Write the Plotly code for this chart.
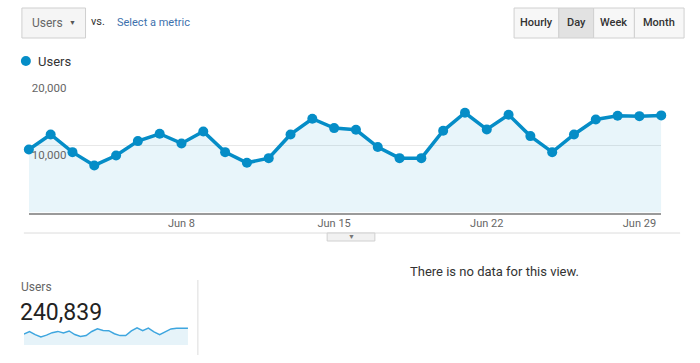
import plotly.graph_objects as go
import pandas as pd

dates = pd.date_range("2014-06-01", "2014-06-30", freq="D")
users = [9470, 11730, 9070, 7070, 8570, 10730, 11830, 10380, 12180, 9070,
         7470, 8170, 11730, 14090, 12680, 12430, 9830, 8170, 8170, 12280,
         14990, 12480, 14690, 11480, 9070, 11730, 13980, 14540, 14480, 14590]
tick_dates = ["2014-06-01", "2014-06-08", "2014-06-15", "2014-06-22", "2014-06-29"]
tick_labels = ["…", "Jun 8", "Jun 15", "Jun 22", "Jun 29"]
y_ticks = [10000, 20000]
y_tick_labels = ["10,000", "20,000"]
total_users = "240,839"
buttons = ["Hourly", "Day", "Week", "Month"]
button_edges = [513, 558, 593, 634, 684]

W, H = 700, 363
def X(p): return p / W
def Y(p): return 1 - p / H

BLUE = "#058DC7"
FONT = "Roboto"

fig = go.Figure()
fig.add_trace(go.Scatter(
    x=dates, y=users, mode="lines+markers",
    line=dict(color=BLUE, width=3.5), marker=dict(size=10, color=BLUE),
    fill="tozeroy", fillcolor="rgba(5,141,199,0.09)",
    cliponaxis=False, showlegend=False, hoverinfo="x+y",
    xaxis="x", yaxis="y"))
fig.add_trace(go.Scatter(
    x=dates, y=users, mode="lines",
    line=dict(color="#3ea6df", width=1.5),
    fill="tozeroy", fillcolor="rgba(5,141,199,0.10)",
    showlegend=False, hoverinfo="skip", xaxis="x2", yaxis="y2"))

fig.update_layout(
    width=W, height=H, margin=dict(l=0, r=0, t=0, b=0),
    paper_bgcolor="white", plot_bgcolor="white",
    font=dict(family=FONT, color="#333"),
    xaxis=dict(domain=[X(25), X(661)], range=[dates[0], dates[-1]],
               tickvals=tick_dates, ticktext=tick_labels, showgrid=False,
               showline=True, linecolor="#9a9a9a", linewidth=1.5, zeroline=False,
               ticks="", tickfont=dict(size=11, color="#666")),
    yaxis=dict(domain=[Y(212.5), Y(79)], range=[0, 20060],
               tickvals=y_ticks, ticktext=y_tick_labels,
               ticklabelposition="inside", ticklabelshift=9,
               showgrid=True, gridcolor="#e8e8e8", zeroline=False,
               showline=False, tickfont=dict(size=11.5, color="#666")),
    xaxis2=dict(domain=[X(20), X(185)], range=[dates[0], dates[-1]],
                visible=False),
    yaxis2=dict(domain=[Y(345), Y(322)], range=[0, 20000], visible=False),
)

shapes = []
anns = []
# dropdown
shapes.append(dict(type="rect", xref="paper", yref="paper", x0=X(18), x1=X(82), y0=Y(38), y1=Y(8),
                   fillcolor="#f5f5f5", line=dict(color="#cfcfcf", width=1)))
anns.append(dict(x=X(26), y=Y(23), text="Users", xanchor="left", yanchor="middle",
                 font=dict(size=12, color="#666")))
anns.append(dict(x=X(69), y=Y(22.5), text="▼", xanchor="center", yanchor="middle",
                 font=dict(size=7, color="#555")))
anns.append(dict(x=X(85), y=Y(21), text="vs.", xanchor="left", yanchor="middle",
                 font=dict(size=11, color="#333")))
anns.append(dict(x=X(112), y=Y(23), text="Select a metric", xanchor="left", yanchor="middle",
                 font=dict(size=11, color="#3d71ad")))
# buttons
for i, b in enumerate(buttons):
    x0, x1 = button_edges[i], button_edges[i + 1]
    shapes.append(dict(type="rect", xref="paper", yref="paper", x0=X(x0), x1=X(x1), y0=Y(38), y1=Y(8),
                       fillcolor="#e2e2e2" if b == "Day" else "#f7f7f7",
                       line=dict(color="#d0d0d0", width=1)))
    anns.append(dict(x=X((x0 + x1) / 2), y=Y(23), text=b, xanchor="center", yanchor="middle",
                     font=dict(size=11, color="#333", weight=500)))
# legend
shapes.append(dict(type="circle", xref="paper", yref="paper", x0=X(17), x1=X(27), y0=Y(66), y1=Y(56),
                   fillcolor=BLUE, line=dict(width=0)))
anns.append(dict(x=X(32), y=Y(62), text="Users", xanchor="left", yanchor="middle",
                 font=dict(size=13, color="#333")))
# separator line + tab
shapes.append(dict(type="line", xref="paper", yref="paper", x0=X(20), x1=X(680), y0=Y(233), y1=Y(233),
                   line=dict(color="#dcdcdc", width=1)))
shapes.append(dict(type="rect", xref="paper", yref="paper", x0=X(325), x1=X(373), y0=Y(241), y1=Y(233),
                   fillcolor="#f1f1f1", line=dict(color="#d0d0d0", width=1)))
anns.append(dict(x=X(349), y=Y(237), text="▼", xanchor="center", yanchor="middle",
                 font=dict(size=7, color="#777")))
# bottom
anns.append(dict(x=X(15), y=Y(287), text="Users", xanchor="left", yanchor="middle",
                 font=dict(size=12, color="#666")))
anns.append(dict(x=X(14), y=Y(312), text=total_users, xanchor="left", yanchor="middle",
                 font=dict(size=23, color="#222")))
shapes.append(dict(type="line", xref="paper", yref="paper", x0=X(195), x1=X(195), y0=Y(355), y1=Y(280),
                   line=dict(color="#dcdcdc", width=1)))
anns.append(dict(x=X(493), y=Y(271), text="There is no data for this view.", xanchor="center",
                 yanchor="middle", font=dict(size=13, color="#333")))

for a in anns:
    a.update(xref="paper", yref="paper", showarrow=False)
fig.update_layout(shapes=shapes, annotations=anns)
fig.write_html("out.html", config={"displayModeBar": False},
               post_script="document.body.style.margin='0';document.body.style.overflow='hidden';")
